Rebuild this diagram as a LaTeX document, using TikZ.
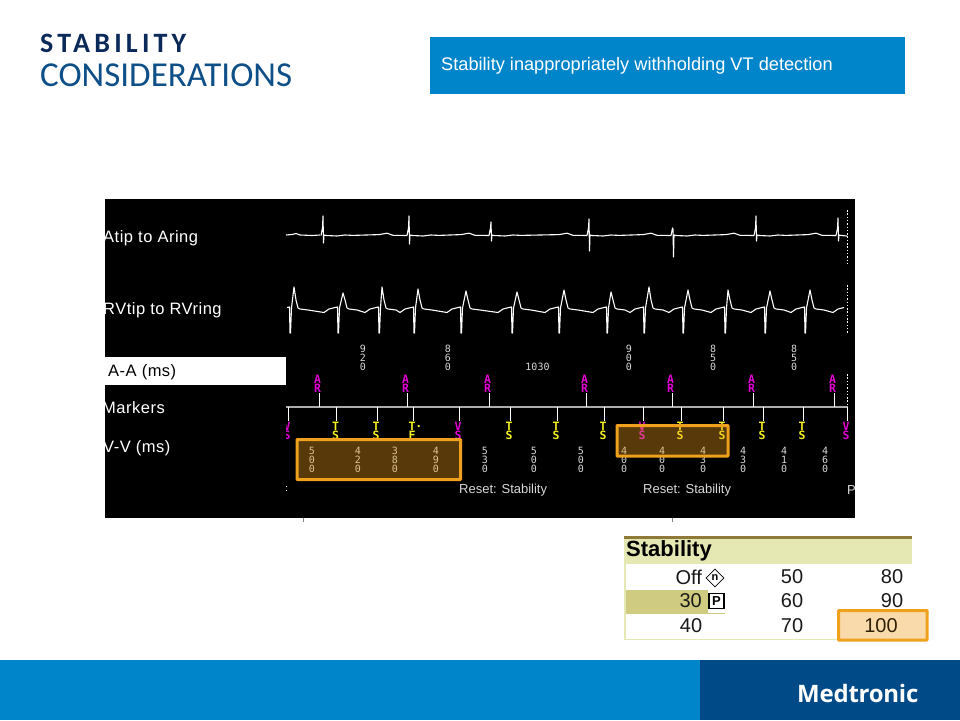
\documentclass[tikz,border=0pt]{standalone}
\usepackage{fontspec}
\usetikzlibrary{shapes.geometric}
\setmainfont{Liberation Sans}
\newfontfamily\monofam{DejaVu Sans Mono}
\newfontfamily\headfam{Carlito}
\newfontfamily\brandfam{Open Sans}
\definecolor{mdtblue}{HTML}{0085CA}
\definecolor{mdtdark}{HTML}{004B87}
\definecolor{navy}{HTML}{0B2A5A}
\definecolor{titleblue}{HTML}{0F4F88}
\definecolor{boxorange}{HTML}{EFA01C}
\definecolor{mag}{HTML}{E000D0}
\definecolor{yel}{HTML}{F5F020}
\definecolor{dig}{HTML}{D8D8D8}
\definecolor{hdr}{HTML}{E6E8B4}
\definecolor{hdrline}{HTML}{8F7A3A}
\definecolor{rowsel}{HTML}{CFCB80}
\tikzset{
  trace/.style={draw=white,line width=1.1pt,line join=round},
  leftlabel/.style={anchor=west,inner sep=0pt,text=white,font=\fontsize{16.5}{18}\selectfont\addfontfeature{LetterSpace=3}},
  digits/.style={inner sep=0pt,align=center,text=dig,font=\monofam\fontsize{10}{9}\selectfont},
  marker/.style={inner sep=0pt,align=center,font=\monofam\bfseries\fontsize{11.5}{9}\selectfont},
  reset/.style={anchor=west,inner sep=0pt,text=dig,font=\fontsize{13}{15}\selectfont},
  hilite/.style={draw=boxorange,line width=3pt,fill=boxorange,fill opacity=0.37,draw opacity=1,rounded corners=0.6pt},
  tickline/.style={draw=white,line width=0.8pt},
  cell/.style={inner sep=0pt,text=black!90,font=\fontsize{20}{22}\selectfont},
}
\begin{document}
\begin{tikzpicture}[x=1pt,y=-1pt]
\useasboundingbox (0,0) rectangle (960,720);
\fill[white] (0,0) rectangle (960,720);
% title
\node[anchor=base west,inner sep=0pt,text=navy,font=\headfam\bfseries\fontsize{28}{30}\selectfont\addfontfeature{LetterSpace=15}] (title1) at (40,52) {STABILITY};
\node[anchor=base west,inner sep=0pt,text=titleblue,font=\headfam\fontsize{35}{37}\selectfont] (title2) at (40,86) {CONSIDERATIONS};
% banner
\fill[mdtblue] (430,37) rectangle (905,94);
\node[anchor=west,inner sep=0pt,text=white,font=\fontsize{18.2}{20}\selectfont] (banner) at (441,66) {Stability inappropriately withholding VT detection};
% footer
\fill[mdtblue] (0,660) rectangle (700,720);
\fill[mdtdark] (700,660) rectangle (960,720);
\node[anchor=base west,inner sep=0pt,text=white,font=\brandfam\bfseries\fontsize{24}{26}\selectfont\addfontfeature{LetterSpace=-1}] (brand) at (797,702) {Medtronic};
% panel
\fill[black] (105,199) rectangle (855,518);
\fill[white] (105,357) rectangle (286,385);
\draw[gray,line width=0.8pt] (303,518) -- (303,522);
\draw[gray,line width=0.8pt] (672,518) -- (672,522);
\begin{scope}
\clip (105,199) rectangle (855,518);
\node[leftlabel] (l1) at (103,238) {Atip to Aring};
\node[leftlabel] (l2) at (103,310) {RVtip to RVring};
\node[leftlabel,text=black] (l3) at (108,372) {A-A (ms)};
\node[leftlabel] (l4) at (102,408) {Markers};
\node[leftlabel] (l5) at (103,448) {V-V (ms)};
% atrial trace
\draw[trace] (286,235) -- (292,234.5) -- (296,233.5) -- (300,235) -- (312,235.5) -- (320,235);
\foreach \a/\b in {323/409,409/491,491/589,589/673,673/756,756/838}{
  \draw[trace] ({\a+3},235.5) -- ({\a+14},236) -- ({\a+22},235) -- ({\a+30},235.4) -- ({\b-30},234.6) -- ({\b-22},233.2) -- ({\b-16},235.3) -- ({\b-2},235.5);
}
\foreach \x/\t/\bt in {323/216/243,409/216/244,491/222/241,589/219/251,673/229/257,756/216/241,838/218/241}{
  \draw[trace] ({\x-2},235.5) -- ({\x-0.5},228) -- (\x,\t) -- ({\x+0.5},\bt) -- ({\x+1},235) -- ({\x+3},235.5);
}
\draw[trace] (841,235.5) -- (847,236);
% ventricular trace
\foreach \q/\p/\t/\n in {290/294/287/338,338/343/293/379,379/382/287/414,414/418/289/461,461/466/291/512,512/517/292/559,559/564/290/607,607/611/292/644,644/649/287/683,683/688/290/725,725/728/290/765,765/770/291/805,805/810/290/847}{
  \draw[trace] ({\q-3},307.5) -- ({\q-0.5},307) -- (\q,333) -- ({\q+0.5},333) -- ({\q+1.5},308) -- (\p,\t) -- ({\p+2},300) -- ({\p+4},308) -- ({\p+6},309) -- ({\p+14},310) -- ({\n-14},312.5) -- ({\n-9},309) -- ({\n-3},307.5);
}
% right dotted limit
\draw[white,line width=0.9pt,dash pattern=on 1.5pt off 1.8pt] (847,210) -- (847,263);
\draw[white,line width=0.9pt,dash pattern=on 1.5pt off 1.8pt] (847,285) -- (847,333);
\draw[white,line width=0.9pt,dash pattern=on 1.5pt off 1.8pt] (847,374) -- (847,406);
\draw[white,line width=0.9pt,dash pattern=on 1.2pt off 3pt] (286,486) -- (286,494);
% marker axis
\draw[gray!65!white,line width=1.2pt] (286,407) -- (848,407);
% A-A values
\foreach \x/\a/\b/\c in {363/9/2/0,448/8/6/0,629/9/0/0,713/8/5/0,794/8/5/0}{
  \node[digits] (aa\x) at (\x,357.5) {\a\\\b\\\c};
}
\node[inner sep=0pt,text=dig,font=\monofam\fontsize{10}{10}\selectfont] (aa1030) at (537.5,366.5) {1030};
% atrial markers
\foreach \x in {319,407,489,586,672,753,834}{
  \draw[tickline] (\x,393) -- (\x,407);
  \node[marker,text=mag] (ar\x) at ({\x-1.5},383.5) {A\\R};
}
% ventricular markers
\foreach \x/\a/\b/\c in {288/V/S/mag,336.5/T/S/yel,377/T/S/yel,459/V/S/mag,510/T/S/yel,557/T/S/yel,604/T/S/yel,643/V/S/mag,681/T/S/yel,723/T/S/yel,763/T/S/yel,803/T/S/yel,847/V/S/mag}{
  \draw[tickline] (\x,407) -- (\x,421);
  \begin{scope}
    \clip (286,410) rectangle (855,440);
    \node[marker,text=\c] (vm\x) at ({\x-1},430.5) {\a\\\b};
  \end{scope}
}
\draw[tickline] (413,407) -- (413,421);
\node[marker,text=yel] (vmtf) at (412,430.5) {T\rlap{·}\\F};
% V-V values
\foreach \x/\a/\b/\c in {312/5/0/0,358/4/2/0,395/3/8/0,436/4/9/0,485/5/3/0,534/5/0/0,581/5/0/0,624/4/0/0,662/4/0/0,703/4/3/0,743/4/3/0,784/4/1/0,825/4/6/0}{
  \node[digits] (vv\x) at (\x,459.5) {\a\\\b\\\c};
}
\node[reset] (r1) at (459,490) {Reset: Stability};
\node[reset] (r2) at (643,490) {Reset: Stability};
\node[reset] (r3) at (847,490) {P};
\end{scope}
% highlights on strip
\draw[hilite] (297,439.5) rectangle (460.5,479.5);
\draw[hilite] (617,425.5) rectangle (728,456);
% stability table
\fill[hdr] (624,538) rectangle (912,564);
\fill[hdrline] (624,536) rectangle (912,538.5);
\fill[rowsel] (625,590) rectangle (725,613.5);
\fill[white] (708,590) rectangle (725,613);
\draw[hdr,line width=1.2pt] (625,564) -- (625,639.5) -- (912,639.5);
\node[anchor=west,inner sep=0pt,text=black,font=\bfseries\fontsize{22}{24}\selectfont] (sthead) at (626,551) {Stability};
\node[cell,anchor=east] (off) at (702,577) {Off};
\node[draw=black,line width=0.7pt,fill=white,diamond,minimum width=18pt,minimum height=18pt,inner sep=0pt,font=\bfseries\fontsize{11}{11}\selectfont] (nom) at (715,578) {n};
\node[cell] (c50) at (792,577) {50};
\node[cell] (c80) at (892,577) {80};
\node[cell,anchor=east] (c30) at (702,601) {30};
\node[draw=black,line width=1.2pt,minimum width=15pt,minimum height=15pt,inner sep=0pt,font=\bfseries\fontsize{13}{13}\selectfont] (prog) at (716.5,601) {P};
\node[cell] (c60) at (792,601) {60};
\node[cell] (c90) at (892,601) {90};
\node[cell] (c40) at (691,626) {40};
\node[cell] (c70) at (792,626) {70};
\draw[hilite] (838.5,610.5) rectangle (927,640);
\node[cell,text=black!80!boxorange] (c100) at (881,626) {100};
\end{tikzpicture}
\end{document}
